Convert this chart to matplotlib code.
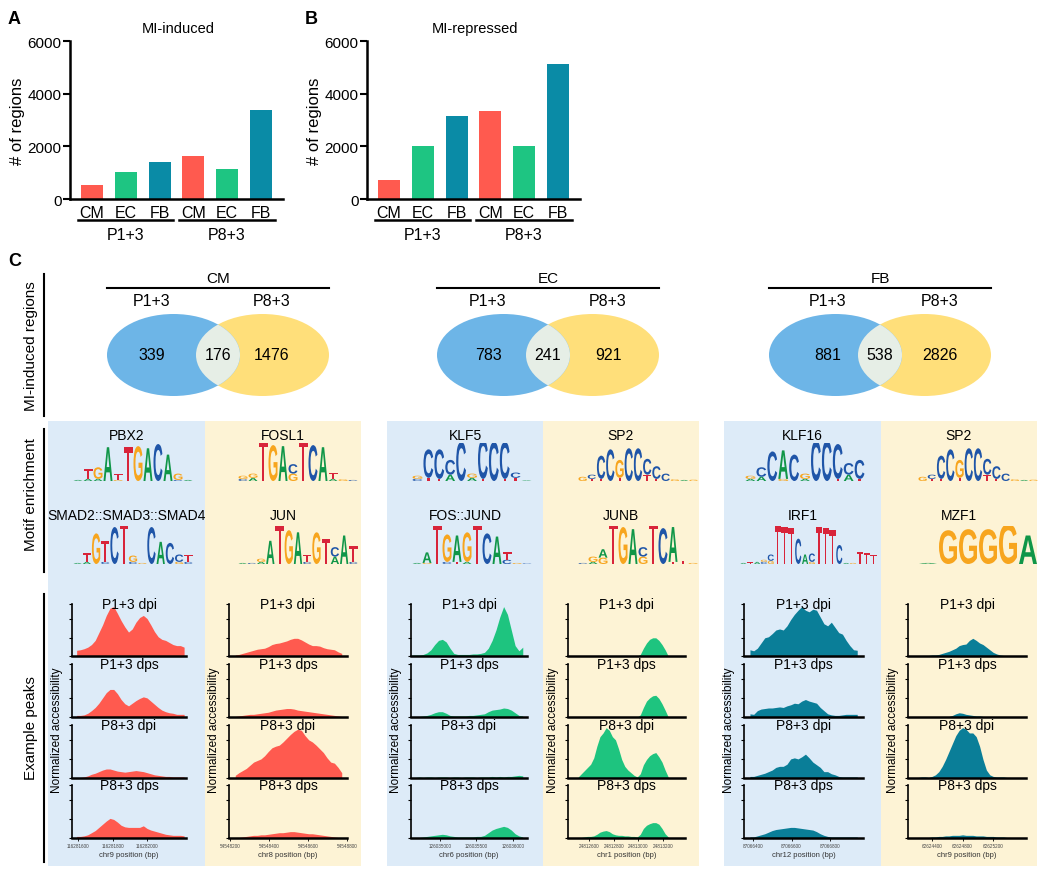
import numpy as np
import matplotlib
matplotlib.use('Agg')
import matplotlib.pyplot as plt
from matplotlib.patches import Rectangle, Ellipse, PathPatch
from matplotlib.textpath import TextPath
from matplotlib.font_manager import FontProperties
from matplotlib.transforms import Affine2D, blended_transform_factory

plt.rcParams['font.family'] = ['Liberation Sans', 'DejaVu Sans']

W, H = 1050, 879

# ---------------- data ----------------
bar_labels = ['CM', 'EC', 'FB', 'CM', 'EC', 'FB']
groups = ['P1+3', 'P8+3']
induced = [520, 1020, 1420, 1650, 1150, 3370]
repressed = [740, 2000, 3170, 3340, 2010, 5110]

cells = ['CM', 'EC', 'FB']
venn_p1_only = [339, 783, 881]
venn_both = [176, 241, 538]
venn_p8_only = [1476, 921, 2826]

# motif logos: one string per position, letter+height (bits)
motif_titles = [['PBX2', 'SMAD2::SMAD3::SMAD4'], ['FOSL1', 'JUN'],
                ['KLF5', 'FOS::JUND'], ['SP2', 'JUNB'],
                ['KLF16', 'IRF1'], ['SP2', 'MZF1']]
motifs = {
    'PBX2': ['A.05', 'A.1 T.45', 'A.1 G.55', 'A1.6', 'G.05 T.3', 'T1.6', 'G1.65',
             'A1.55', 'C1.75', 'A1.25', 'C.05 G.3', 'A.05'],
    'SMAD2::SMAD3::SMAD4': ['A.05', 'A.1 T.4', 'G1.45', 'C.1 T1.0', 'C1.75', 'T1.95',
                            'C.1 G.3', 'G.05', 'C1.75', 'A1.05', 'C1.0', 'G.1 C.35', 'C.1 T.35'],
    'FOSL1': ['C.1 G.15', 'A.15 G.2', 'T1.9', 'G1.7', 'A1.65', 'G.35 C.45', 'T1.9',
              'C1.7', 'A1.6', 'A.1 T.3', 'G.08', 'C.05'],
    'JUN': ['A.05', 'C.05', 'A.1 G.15', 'A1.1', 'T1.85', 'G1.6', 'A1.5', 'C.1 T.35',
            'G1.5', 'T1.2', 'A.35 C.45', 'A1.35', 'C.1 T.75'],
    'KLF5': ['C.1 G.15', 'T.15 C1.35', 'T.1 C1.4', 'A.3 C.7', 'C1.85', 'A.15 G.2',
             'T.1 C1.85', 'C1.85', 'T.1 C1.75', 'T.15 C.25', 'A.03'],
    'SP2': ['G.2', 'T.1 C.2', 'T.1 C1.1', 'C1.5', 'T.15 G.85', 'C1.55', 'C1.55',
            'T.3 C.75', 'T.1 C.6', 'C.35', 'G.08', 'A.05', 'G.06'],
    'FOS::JUND': ['A.05', 'G.05 A.5', 'T1.9', 'C.1 G1.3', 'T.1 A1.25', 'A.1 G1.4',
                  'T1.9', 'C1.45', 'A1.3', 'C.2 T.35', 'G.05', 'C.03'],
    'JUNB': ['C.05', 'G.25 A.1', 'G.3 A.4', 'T1.95', 'G1.75', 'A1.65', 'G.35 C.45',
             'T1.95', 'C1.7', 'T.1 A1.65', 'T.15', 'G.05'],
    'KLF16': ['A.1 G.15', 'A.2 C.45', 'C1.4', 'G.1 A1.35', 'C1.25', 'A.1 G.25',
              'C1.9', 'C1.9', 'T.1 C1.65', 'A.3 C.55', 'T.1 C.9'],
    'IRF1': ['A.05', 'T.08', 'A.1', 'C.1 G.1', 'G.15 C.3', 'T1.8', 'T1.75', 'T1.7',
             'C1.2', 'A.45', 'G.1 C.4', 'T1.75', 'T1.7', 'T1.6', 'C.9', 'A.05', 'G.05',
             'T.55', 'T.5', 'T.45'],
    'MZF1': ['A.05', 'G1.6', 'G1.65', 'G1.65', 'G1.9', 'A1.35'],
}

track_names = ['P1+3 dpi', 'P1+3 dps', 'P8+3 dpi', 'P8+3 dps']
chroms = ['chr9', 'chr8', 'chr6', 'chr1', 'chr12', 'chr9']
peak_spans = [(116281592, 116282215), (54548227, 54548773), (126034613, 126036134),
              (24812513, 24813242), (87066384, 87066941), (62624177, 62625470)]
peak_xlims = [(116281565, 116282226), (54548195, 54548800), (126034603, 126036192),
              (24812430, 24813378), (87066353, 87066971), (62624085, 62625633)]
peak_ticks = [[116281600, 116281800, 116282000],
              [54548200, 54548400, 54548600, 54548800],
              [126035000, 126035500, 126036000],
              [24812600, 24812800, 24813000, 24813200],
              [87066400, 87066600, 87066800],
              [62624400, 62624800, 62625200]]

cm_p1_peaks = [
    [.11, .12, .14, .17, .22, .30, .45, .60, .78, .92, .95, .82, .68, .56, .46, .52, .65, .74, .78, .72, .60, .47, .37, .32, .30, .26, .22, .20, .20, .17],
    [.03, .03, .04, .07, .12, .18, .26, .36, .46, .52, .52, .44, .33, .25, .21, .26, .31, .35, .38, .36, .30, .24, .18, .13, .10, .08, .07, .05, .05, .05],
    [.00, .01, .02, .04, .07, .09, .12, .15, .17, .17, .15, .13, .12, .11, .12, .13, .14, .13, .12, .10, .08, .06, .05, .04, .03, .03, .02, .02, .02, .02],
    [.03, .03, .04, .06, .10, .14, .20, .26, .32, .37, .35, .30, .24, .21, .20, .20, .20, .20, .23, .18, .15, .13, .11, .09, .07, .06, .05, .05, .05, .04],
]
cm_p8_peaks = [
    [.02, .03, .05, .07, .09, .11, .13, .14, .15, .18, .22, .24, .25, .27, .29, .32, .34, .34, .31, .27, .23, .20, .20, .19, .16, .14, .13, .12, .08, .05],
    [.01, .02, .03, .04, .05, .05, .06, .07, .08, .09, .11, .13, .14, .15, .16, .16, .15, .13, .12, .11, .10, .09, .08, .07, .06, .05, .04, .03, .02, .01],
    [.05, .10, .14, .18, .24, .30, .33, .36, .42, .50, .57, .60, .62, .68, .75, .82, .88, .92, .90, .80, .72, .68, .62, .55, .48, .38, .30, .28, .20, .10],
    [.01, .01, .02, .03, .04, .05, .05, .06, .06, .07, .08, .09, .10, .10, .11, .12, .12, .11, .10, .09, .08, .08, .07, .06, .05, .04, .03, .02, .01, .01],
]
ec_p1_peaks = [
    [.02, .02, .02, .03, .06, .12, .22, .30, .32, .27, .15, .05, .03, .03, .03, .03, .04, .04, .05, .07, .15, .30, .50, .75, .95, .80, .50, .20, .10, .17],
    [.01, .01, .01, .02, .03, .05, .08, .10, .10, .07, .03, .02, .02, .02, .02, .03, .03, .04, .05, .06, .10, .13, .14, .15, .17, .16, .13, .08, .03, .02],
    [.01, .01, .02, .01, .02, .02, .01, .02, .02, .02, .01, .02, .02, .01, .02, .02, .02, .01, .02, .02, .02, .03, .02, .03, .02, .03, .03, .04, .05, .04],
    [.01, .01, .01, .02, .03, .04, .05, .06, .07, .06, .04, .03, .02, .02, .02, .02, .02, .03, .03, .05, .10, .15, .18, .20, .22, .20, .15, .08, .04, .02],
]
ec_p8_peaks = [
    [0, 0, 0, 0, 0, 0, 0, .005, .01, .01, .005, 0, 0, 0, 0, 0, 0, 0, 0, 0, .03, .15, .25, .32, .35, .35, .30, .22, .12, 0],
    [0, 0, 0, 0, 0, 0, 0, .005, .01, .01, .005, 0, 0, 0, 0, 0, 0, 0, 0, 0, .04, .18, .30, .36, .40, .41, .35, .25, .13, 0],
    [.02, .08, .14, .20, .26, .38, .60, .78, .85, .95, .90, .78, .72, .55, .35, .22, .15, .10, .05, .02, .08, .25, .35, .42, .46, .48, .40, .30, .15, .02],
    [.01, .01, .02, .03, .03, .04, .07, .11, .13, .14, .12, .08, .06, .05, .05, .04, .04, .03, .03, .02, .07, .18, .24, .27, .29, .29, .26, .18, .08, .02],
]
fb_p1_peaks = [
    [.12, .10, .15, .25, .35, .37, .43, .50, .52, .50, .58, .70, .80, .88, .95, .88, .85, .90, .88, .75, .62, .58, .65, .55, .45, .42, .30, .20, .12, .11],
    [.06, .05, .12, .15, .16, .17, .17, .18, .19, .18, .21, .23, .26, .25, .30, .33, .30, .28, .26, .18, .12, .06, .04, .03, .03, .04, .05, .05, .05, .05],
    [.03, .03, .05, .07, .09, .12, .15, .20, .22, .22, .26, .36, .38, .36, .40, .45, .38, .30, .25, .20, .12, .12, .08, .06, .03, .02, .02, .02, .02, .02],
    [.02, .02, .04, .06, .08, .11, .14, .16, .17, .18, .19, .20, .20, .19, .18, .17, .16, .15, .12, .08, .05, .03, .02, .02, .02, .02, .02, .02, .02, .02],
]
fb_p8_peaks = [
    [0, 0, .01, .01, .01, .02, .02, .03, .05, .07, .09, .12, .15, .20, .22, .23, .30, .34, .30, .25, .22, .17, .12, .07, .04, .02, .01, 0, 0, 0],
    [0, 0, 0, 0, 0, 0, 0, 0, 0, 0, .01, .03, .06, .08, .07, .05, .04, .03, .02, .02, .01, 0, 0, 0, 0, 0, 0, 0, 0, 0],
    [0, .01, .02, .02, .01, .03, .06, .12, .22, .35, .50, .65, .80, .90, .95, .92, .85, .85, .78, .60, .35, .15, .06, .03, .02, .02, .02, .01, .01, 0],
    [0, .01, .01, .01, .01, .02, .02, .03, .03, .04, .04, .05, .05, .05, .06, .05, .05, .05, .04, .04, .04, .03, .03, .03, .02, .02, .02, .01, .01, 0],
]
all_peaks = [cm_p1_peaks, cm_p8_peaks, ec_p1_peaks, ec_p8_peaks, fb_p1_peaks, fb_p8_peaks]

# ---------------- style ----------------
cell_colors = {'CM': '#FF5A4F', 'EC': '#1EC582', 'FB': '#0A8BA6'}
peak_colors = ['#FF5A4F', '#FF5A4F', '#1EC47F', '#1EC47F', '#0A7E98', '#0A7E98']
letter_colors = {'A': '#109648', 'C': '#1F55A8', 'G': '#F7A51E', 'T': '#D8243A'}
bg_blue, bg_yellow = '#DDEBF8', '#FDF3D5'
venn_blue, venn_yellow, venn_mid = '#6DB5E7', '#FFDF7A', '#E6EEE6'

fig = plt.figure(figsize=(W / 100, H / 100), dpi=100)
fig.patch.set_facecolor('white')


def px_axes(x0, y0, x1, y1):
    return fig.add_axes([x0 / W, 1 - y1 / H, (x1 - x0) / W, (y1 - y0) / H])


# overlay in pixel coordinates for backgrounds, lines and labels
ax0 = fig.add_axes([0, 0, 1, 1])
ax0.set_xlim(0, W)
ax0.set_ylim(H, 0)
ax0.axis('off')

bg_cols = [(48, 205), (205, 361), (387, 543), (543, 699), (724, 881), (881, 1037)]
for i, (a, b) in enumerate(bg_cols):
    ax0.add_patch(Rectangle((a, 422), b - a, 445, fc=bg_blue if i % 2 == 0 else bg_yellow,
                            ec='none', zorder=0))

# panel letters
for lab, x, y in [('A', 8, 20), ('B', 305, 20), ('C', 8, 262)]:
    ax0.text(x, y, lab, fontsize=13, fontweight='bold', va='center', ha='left')

# ---------------- panels A and B ----------------
for vals, x0, title in [(induced, 70, 'MI-induced'), (repressed, 367, 'MI-repressed')]:
    ax = px_axes(x0, 42, x0 + 213, 200)
    ax.patch.set_alpha(0)
    ax.bar(range(6), vals, width=0.65, color=[cell_colors[c] for c in bar_labels])
    ax.set_xlim(-0.65, 5.65)
    ax.set_ylim(0, 6000)
    ax.set_yticks([0, 2000, 4000, 6000])
    ax.set_xticks(range(6), bar_labels)
    ax.tick_params(axis='x', length=0, labelsize=11.5, pad=4)
    ax.tick_params(axis='y', length=5, width=1.5, labelsize=11, pad=1)
    for s in ['top', 'right']:
        ax.spines[s].set_visible(False)
    for s in ['left', 'bottom']:
        ax.spines[s].set_linewidth(1.8)
    ax.set_ylabel('# of regions', fontsize=12, labelpad=2)
    tr = blended_transform_factory(ax.transData, ax.transAxes)
    ax.text(2.55, 1.08, title, transform=tr, ha='center', va='center', fontsize=10.5)
    for g, (a, b) in zip(groups, [(-0.41, 2.40), (2.57, 5.41)]):
        ax.plot([a, b], [-0.133, -0.133], color='black', lw=1.8, transform=tr, clip_on=False)
        ax.text((a + b) / 2, -0.225, g, transform=tr, ha='center', va='center', fontsize=11.5)

# ---------------- panel C: Venn ----------------
venn_centers = [218, 548, 880]
left_x = [152, 488, 828]
right_x = [272, 608, 940]
vy = 356
for i, cell in enumerate(cells):
    cx = venn_centers[i]
    ax0.plot([cx - 111, cx + 111], [289, 289], color='black', lw=1.5)
    ax0.text(cx, 279, cell, ha='center', va='center', fontsize=11)
    ax0.text(left_x[i], 302, 'P1+3', ha='center', va='center', fontsize=11.5)
    ax0.text(right_x[i], 302, 'P8+3', ha='center', va='center', fontsize=11.5)
    ey = Ellipse((cx + 44.5, vy), 133, 82, fc=venn_yellow, ec='none', zorder=2)
    eb = Ellipse((cx - 44.5, vy), 133, 82, fc=venn_blue, ec='none', zorder=2)
    ei = Ellipse((cx - 44.5, vy), 133, 82, fc=venn_mid, ec='none', zorder=3)
    ax0.add_patch(ey)
    ax0.add_patch(eb)
    ax0.add_patch(ei)
    ei.set_clip_path(ey)
    ax0.text(left_x[i], vy, str(venn_p1_only[i]), ha='center', va='center', fontsize=11.5, zorder=4)
    ax0.text(cx, vy, str(venn_both[i]), ha='center', va='center', fontsize=11.5, zorder=4)
    ax0.text(right_x[i], vy, str(venn_p8_only[i]), ha='center', va='center', fontsize=11.5, zorder=4)

# left side row labels
for txt, y0, y1, yc in [('MI-induced regions', 275, 417, 346),
                        ('Motif enrichment', 430, 573, 495),
                        ('Example peaks', 595, 863, 728)]:
    ax0.plot([44, 44], [y0, y1], color='black', lw=1.5)
    ax0.text(31, yc, txt, rotation=90, ha='center', va='center', fontsize=11)

# ---------------- motif logos ----------------
fp = FontProperties(family='Liberation Sans', weight='bold')


def draw_letter(ax, ch, x, y, w, h):
    tp = TextPath((0, 0), ch, size=1, prop=fp)
    bb = tp.get_extents()
    tr = (Affine2D().translate(-bb.x0, -bb.y0)
          .scale(w * 0.9 / bb.width, h / bb.height).translate(x + w * 0.05, y))
    ax.add_patch(PathPatch(tr.transform_path(tp), fc=letter_colors[ch], ec='none', lw=0))


def draw_logo(ax, cols):
    for i, col in enumerate(cols):
        parts = sorted([(t[0], float(t[1:])) for t in col.split()], key=lambda p: p[1])
        y = 0
        for ch, h in parts:
            draw_letter(ax, ch, i, y, 1, h)
            y += h
    ax.axhline(0, color='#BBBBBB', lw=0.6, zorder=0)
    ax.set_xlim(0, len(cols))
    ax.set_ylim(0, 1.8)
    ax.axis('off')


logo_x0 = [73, 238, 412, 578, 745, 918]
logo_rows = [(444, 482, 436), (527, 565, 516)]
for j, names in enumerate(motif_titles):
    bx = (bg_cols[j][0] + bg_cols[j][1]) / 2
    for r, name in enumerate(names):
        top, bot, ty = logo_rows[r]
        ax0.text(bx, ty, name, ha='center', va='center', fontsize=10)
        width = 137 if name == 'IRF1' else 120
        x0 = logo_x0[j] - (5 if name == 'IRF1' else 0)
        lax = px_axes(x0, top, x0 + width, bot)
        draw_logo(lax, motifs[name])

# ---------------- example peaks ----------------
peak_cols = [(72, 186), (229, 347), (411, 527), (568, 685), (744, 863), (908, 1026)]
track_rows = [(605, 657), (665, 718), (726, 779), (786, 839)]
for j, (xa, xb) in enumerate(peak_cols):
    start, end = peak_spans[j]
    for r, (ya, yb) in enumerate(track_rows):
        vals = all_peaks[j][r]
        pos = np.linspace(start, end, len(vals))
        ax = px_axes(xa, ya, xb, yb)
        ax.patch.set_alpha(0)
        ax.fill_between(pos, vals, 0, color=peak_colors[j], lw=0)
        ax.set_xlim(*peak_xlims[j])
        ax.set_ylim(0, 1)
        ax.set_yticks([0, 0.35, 0.71, 1.0])
        ax.tick_params(axis='y', length=2.5, width=0.8, labelleft=False)
        for s in ['top', 'right']:
            ax.spines[s].set_visible(False)
        ax.spines['left'].set_linewidth(1.2)
        ax.spines['bottom'].set_linewidth(1.8)
        ax.text(0.5, 1.0, track_names[r], transform=ax.transAxes, ha='center', va='center',
                fontsize=10)
        if r == 3:
            ax.set_xticks(peak_ticks[j], [str(t) for t in peak_ticks[j]])
            ax.tick_params(axis='x', length=2, width=0.6, labelsize=3.3, pad=1.5,
                           labelcolor='#444444')
            ax.set_xlabel(f'{chroms[j]} position (bp)', fontsize=5.5, labelpad=2, color='#333333')
        else:
            ax.set_xticks([])
    ax0.text(xa - 15, 730, 'Normalized accessibility', rotation=90, ha='center', va='center',
             fontsize=8.5)

fig.savefig('out.png', dpi=100)
